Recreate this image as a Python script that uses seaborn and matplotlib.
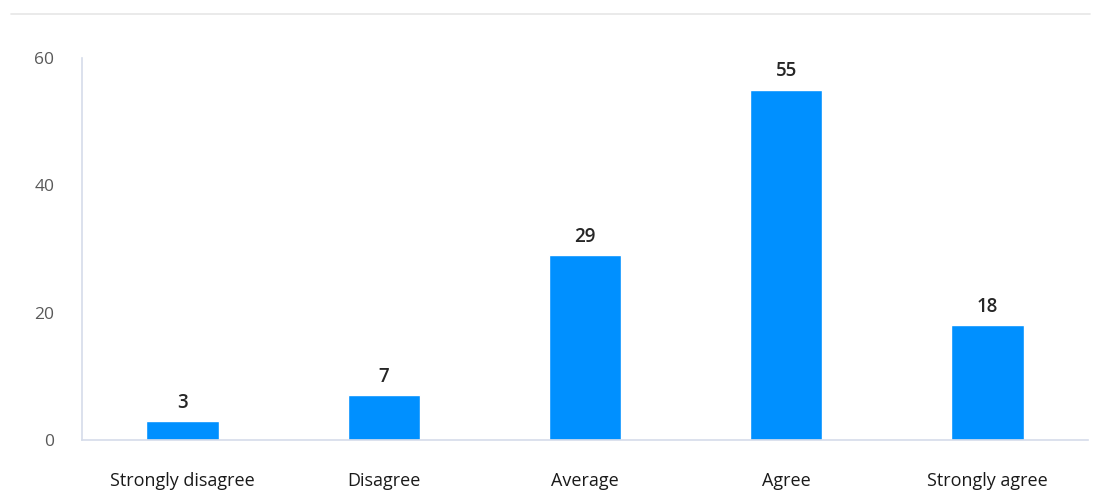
import matplotlib
matplotlib.use("Agg")
import matplotlib.pyplot as plt
import seaborn as sns
import pandas as pd
from matplotlib.lines import Line2D

categories = ["Strongly disagree", "Disagree", "Average", "Agree", "Strongly agree"]
counts = [3, 7, 29, 55, 18]
y_ticks = [0, 20, 40, 60]

df = pd.DataFrame({"answer": categories, "count": counts})

sns.set_style("white")
plt.rcParams["font.family"] = ["Open Sans", "DejaVu Sans"]

fig = plt.figure(figsize=(11.04, 4.99), dpi=100)
ax = fig.add_axes([0.0743, 0.1182, 0.9112, 0.7656])

sns.barplot(data=df, x="answer", y="count", color="#0090ff", saturation=1,
            width=0.36, ax=ax)

# value labels over the bars
ax.bar_label(ax.containers[0], fmt="%d", padding=6, fontsize=13.5,
             fontweight="semibold", color="#262626")

ax.set_ylim(0, 60)
ax.set_yticks(y_ticks)
ax.set_xlim(-0.5, len(categories) - 0.5)
ax.set_xlabel("")
ax.set_ylabel("")
ax.tick_params(axis="y", length=0, pad=20, labelsize=12.5, labelcolor="#595959")
ax.tick_params(axis="x", length=0, pad=23, labelsize=13, labelcolor="#1a1a1a")

for side in ["top", "right"]:
    ax.spines[side].set_visible(False)
for side in ["left", "bottom"]:
    ax.spines[side].set_color("#d5dcea")
    ax.spines[side].set_linewidth(1.2)

# thin rule near the top of the picture
fig.add_artist(Line2D([0.01, 0.987], [0.972, 0.972], transform=fig.transFigure,
                      color="#e6e6e6", linewidth=1.2))

fig.savefig("out.png", dpi=100)
